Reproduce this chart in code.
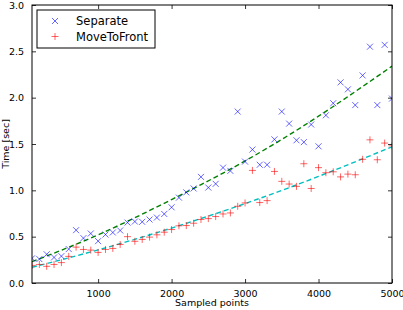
<!DOCTYPE html>
<html>
<head>
<meta charset="utf-8">
<script src="https://cdn.jsdelivr.net/npm/d3@7"></script>
<style>
  html, body { margin: 0; padding: 0; background: #fff; }
  svg { display: block; font-family: 'DejaVu Sans', sans-serif; }
</style>
</head>
<body>
<main></main>
<script>
// sampled points 100..5000 step 100
const samples = [
  100, 200, 300, 400, 500, 600, 700, 800, 900, 1000,
  1100, 1200, 1300, 1400, 1500, 1600, 1700, 1800, 1900, 2000,
  2100, 2200, 2300, 2400, 2500, 2600, 2700, 2800, 2900, 3000,
  3100, 3200, 3300, 3400, 3500, 3600, 3700, 3800, 3900, 4000,
  4100, 4200, 4300, 4400, 4500, 4600, 4700, 4800, 4900, 5000,
];
const separate = [
  0.266, 0.258, 0.31, 0.276, 0.29, 0.366, 0.57, 0.484, 0.534, 0.452,
  0.523, 0.545, 0.567, 0.652, 0.663, 0.66, 0.685, 0.706, 0.745, 0.817,
  0.921, 0.978, 1.02, 1.145, 1.03, 1.07, 1.245, 1.21, 1.85, 1.31,
  1.44, 1.276, 1.276, 1.55, 1.85, 1.72, 1.54, 1.52, 1.71, 1.475,
  1.81, 1.94, 2.165, 2.09, 1.92, 2.24, 2.55, 1.92, 2.57, 1.99,
];
const moveToFront = [
  0.19, 0.2, 0.18, 0.2, 0.22, 0.287, 0.387, 0.362, 0.355, 0.33,
  0.362, 0.373, 0.416, 0.5, 0.45, 0.47, 0.495, 0.52, 0.548, 0.577,
  0.617, 0.62, 0.645, 0.685, 0.695, 0.717, 0.745, 0.756, 0.828, 0.864,
  1.215, 0.868, 0.889, 1.204, 1.097, 1.068, 1.043, 1.287, 1.02, 1.245,
  1.19, 1.2, 1.145, 1.175, 1.168, 1.335, 1.545, 1.33, 1.51, 1.48,
];
// dashed trend lines
const fitPoints = [100, 1000, 2000, 3000, 4000, 5000];
const separateFit = [0.23, 0.52, 0.9, 1.317, 1.8, 2.34];
const moveToFrontFit = [0.17, 0.357, 0.593, 0.857, 1.15, 1.47];

const xTicks = [1000, 2000, 3000, 4000, 5000];
const yTicks = [0, 0.5, 1, 1.5, 2, 2.5, 3];
const legendLabels = ['Separate', 'MoveToFront'];

const dimensions = {
  width: 403,
  height: 310,
  margin: { top: 5, right: 11, bottom: 27, left: 32 },
};
dimensions.boundedWidth =
  dimensions.width - (dimensions.margin.left + dimensions.margin.right);
dimensions.boundedHeight =
  dimensions.height - (dimensions.margin.top + dimensions.margin.bottom);

const colors = {
  separate: '#0000ff',
  moveToFront: '#ff0000',
  separateFit: '#008000',
  moveToFrontFit: '#00bfbf',
};

const svg = d3
  .select('main')
  .append('svg')
  .attr('width', dimensions.width)
  .attr('height', dimensions.height);

const bounds = svg
  .append('g')
  .attr('transform', `translate(${dimensions.margin.left} ${dimensions.margin.top})`);

svg
  .append('defs')
  .append('clipPath')
  .attr('id', 'plot-clip')
  .append('rect')
  .attr('width', dimensions.boundedWidth)
  .attr('height', dimensions.boundedHeight);

const xScale = d3
  .scaleLinear()
  .domain([100, 5000])
  .range([0, dimensions.boundedWidth]);

const yScale = d3
  .scaleLinear()
  .domain([0, 3])
  .range([dimensions.boundedHeight, 0]);

const plot = bounds.append('g').attr('clip-path', 'url(#plot-clip)');

// trend lines
const lineGenerator = d3
  .line()
  .x(d => xScale(d[0]))
  .y(d => yScale(d[1]))
  .curve(d3.curveNatural);

[
  [separateFit, colors.separateFit],
  [moveToFrontFit, colors.moveToFrontFit],
].forEach(([values, color]) => {
  plot
    .append('path')
    .attr('d', lineGenerator(fitPoints.map((t, i) => [t, values[i]])))
    .attr('fill', 'none')
    .attr('stroke', color)
    .attr('stroke-width', 1.4)
    .attr('stroke-dasharray', '5 3');
});

const markerSize = 3;
const crossPath = `M${-markerSize},${-markerSize}L${markerSize},${markerSize}M${-markerSize},${markerSize}L${markerSize},${-markerSize}`;
const plusPath = `M${-markerSize - 0.5},0H${markerSize + 0.5}M0,${-markerSize - 0.5}V${markerSize + 0.5}`;

plot
  .append('g')
  .selectAll('path')
  .data(samples.map((t, i) => [t, separate[i]]))
  .join('path')
  .attr('transform', d => `translate(${xScale(d[0])} ${yScale(d[1])})`)
  .attr('d', crossPath)
  .attr('fill', 'none')
  .attr('stroke', colors.separate)
  .attr('stroke-opacity', 0.6)
  .attr('stroke-width', 1);

plot
  .append('g')
  .selectAll('path')
  .data(samples.map((t, i) => [t, moveToFront[i]]))
  .join('path')
  .attr('transform', d => `translate(${xScale(d[0])} ${yScale(d[1])})`)
  .attr('d', plusPath)
  .attr('fill', 'none')
  .attr('stroke', colors.moveToFront)
  .attr('stroke-opacity', 0.6)
  .attr('stroke-width', 1);

// axes: ticks point inward on all four sides
const tickLength = 4;
const axisFont = 9.5;

const xAxisBottom = d3
  .axisBottom(xScale)
  .tickValues(xTicks)
  .tickSizeInner(-tickLength)
  .tickSizeOuter(0)
  .tickPadding(7)
  .tickFormat(d3.format('d'));

const xAxisTop = d3
  .axisTop(xScale)
  .tickValues(xTicks)
  .tickSizeInner(-tickLength)
  .tickSizeOuter(0)
  .tickFormat('');

const yAxisLeft = d3
  .axisLeft(yScale)
  .tickValues(yTicks)
  .tickSizeInner(-tickLength)
  .tickSizeOuter(0)
  .tickPadding(8)
  .tickFormat(d3.format('.1f'));

const yAxisRight = d3
  .axisRight(yScale)
  .tickValues(yTicks)
  .tickSizeInner(-tickLength)
  .tickSizeOuter(0)
  .tickFormat('');

const axisGroup = bounds.append('g');
axisGroup
  .append('g')
  .attr('transform', `translate(0 ${dimensions.boundedHeight})`)
  .call(xAxisBottom);
axisGroup.append('g').call(xAxisTop);
axisGroup.append('g').call(yAxisLeft);
axisGroup
  .append('g')
  .attr('transform', `translate(${dimensions.boundedWidth} 0)`)
  .call(yAxisRight);

axisGroup.selectAll('path.domain').remove();
axisGroup.selectAll('.tick line').attr('stroke', '#000').attr('stroke-width', 0.8);
axisGroup
  .selectAll('text')
  .attr('fill', '#000')
  .attr('font-size', axisFont)
  .attr('font-family', "'DejaVu Sans', sans-serif");

// frame
bounds
  .append('rect')
  .attr('width', dimensions.boundedWidth)
  .attr('height', dimensions.boundedHeight)
  .attr('fill', 'none')
  .attr('stroke', '#000')
  .attr('stroke-width', 1);

// axis labels
bounds
  .append('text')
  .attr('x', dimensions.boundedWidth / 2)
  .attr('y', dimensions.boundedHeight + 23)
  .attr('text-anchor', 'middle')
  .attr('font-size', axisFont)
  .text('Sampled points');

bounds
  .append('text')
  .attr('transform', `translate(${-23} ${dimensions.boundedHeight / 2}) rotate(-90)`)
  .attr('text-anchor', 'middle')
  .attr('font-size', axisFont)
  .text('Time [sec]');

// legend
const legend = bounds.append('g').attr('transform', 'translate(5 5)');
legend
  .append('rect')
  .attr('width', 118)
  .attr('height', 38)
  .attr('fill', '#fff')
  .attr('stroke', '#000')
  .attr('stroke-width', 1);

const legendItems = legend
  .selectAll('g.item')
  .data(legendLabels)
  .join('g')
  .attr('class', 'item')
  .attr('transform', (d, i) => `translate(0 ${11 + i * 15.5})`);

legendItems
  .append('path')
  .attr('transform', 'translate(18 0)')
  .attr('d', (d, i) => (i === 0 ? crossPath : plusPath))
  .attr('fill', 'none')
  .attr('stroke', (d, i) => (i === 0 ? colors.separate : colors.moveToFront))
  .attr('stroke-opacity', 0.6)
  .attr('stroke-width', 1);

legendItems
  .append('text')
  .attr('x', 39)
  .attr('y', 4)
  .attr('font-size', 11.5)
  .text(d => d);
</script>
</body>
</html>
